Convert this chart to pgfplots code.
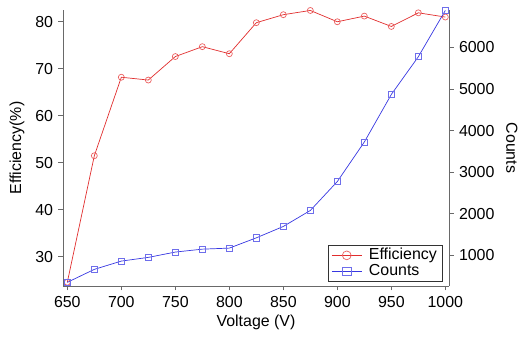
\documentclass[border=0pt]{standalone}
\usepackage{fontspec}
\setmainfont{Liberation Sans}
\usepackage{pgfplots}
\pgfplotsset{compat=1.18}
\definecolor{effline}{RGB}{225,45,45}
\definecolor{effmark}{RGB}{235,95,95}
\definecolor{cntline}{RGB}{55,55,225}
\definecolor{cntmark}{RGB}{110,110,235}
\definecolor{axgray}{RGB}{105,105,105}
\pgfplotsset{
  myax/.style={
    scale only axis, width=386bp, height=276bp,
    xmin=646, xmax=1003.4,
    font=\fontsize{16}{19}\selectfont,
    tick label style={font=\fontsize{16}{19}\selectfont},
    label style={font=\fontsize{16}{19}\selectfont},
    /pgf/number format/assume math mode=true,
    /pgf/number format/set thousands separator={},
    tick style={axgray, line width=0.8pt},
    axis line style={axgray, line width=0.8pt},
    tick align=outside, major tick length=4.5bp,
    minor tick num=0,
  }
}
\begin{document}
\fontsize{16}{19}\selectfont
\begin{tikzpicture}[font=\fontsize{16}{19}\selectfont]
\path[use as bounding box] (-63bp,-51bp) rectangle (456bp,286bp);
\begin{axis}[myax,
  axis x line*=bottom, axis y line*=left,
  ymin=23.8, ymax=82.5,
  xtick={650,700,...,1000},
  ytick={30,40,50,60,70,80},
  xlabel={Voltage (V)},
  ylabel={Efficiency(\%)},
  xlabel style={at={(axis description cs:0.5,-0.13)}, anchor=center},
  ylabel style={at={(axis description cs:-0.119,0.5)}, anchor=center, rotate=0},
  clip=false,
]
\addplot[effline, line width=0.7pt, mark=o, mark size=3bp,
  mark options={effmark, line width=0.7pt}] coordinates {
(650,24.6) (675,51.5) (700,68.2) (725,67.6) (750,72.6) (775,74.7) (800,73.2)
(825,79.8) (850,81.5) (875,82.4) (900,80.0) (925,81.2) (950,79.0) (975,81.9) (1000,81.0)
};
\end{axis}
\begin{axis}[myax,
  axis x line=none, axis y line*=right,
  ymin=264, ymax=6900,
  ytick={1000,2000,...,6000},
  ylabel={Counts},
  ylabel style={at={(axis description cs:1.163,0.5)}, anchor=center, rotate=180},
  clip=false,
  legend style={at={(0.982,0.018)}, anchor=south east, draw=black!80,
    font=\fontsize{16}{19}\selectfont, inner xsep=3pt, inner ysep=1pt, row sep=-2pt,
    column sep=5pt, cells={anchor=west}},
  legend cell align=left,
  legend image code/.code={
    \draw[#1, mark=none] (0cm,0cm) -- (1.05cm,0cm);
    \draw[#1, only marks] plot coordinates {(0.525cm,0cm)};
  },
]
\addlegendimage{effline, line width=0.7pt, mark=o, mark size=4.4bp,
  mark options={effmark, line width=0.7pt}}
\addlegendentry{Efficiency}
\addplot[cntline, line width=0.7pt, mark=square, mark size=3.1bp,
  mark options={cntmark, line width=0.7pt}, forget plot] coordinates {
(650,352) (675,664) (700,863) (725,952) (750,1080) (775,1150) (800,1175)
(825,1422) (850,1696) (875,2080) (900,2776) (925,3726) (950,4870) (975,5777) (1000,6890)
};
\addlegendimage{cntline, line width=0.7pt, mark=square, mark size=4.2bp,
  mark options={cntmark, line width=0.7pt}}
\addlegendentry{Counts}
\end{axis}
\end{tikzpicture}
\end{document}
